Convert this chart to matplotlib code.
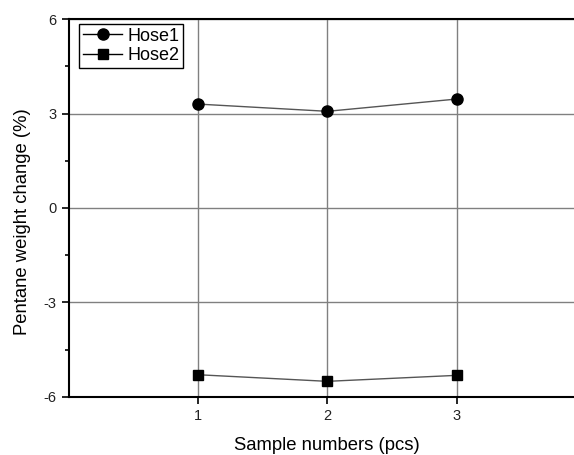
import matplotlib
matplotlib.use('Agg')
import matplotlib.pyplot as plt
from matplotlib.ticker import MultipleLocator

plt.rcParams['font.family'] = ['Liberation Sans', 'DejaVu Sans']
plt.rcParams['axes.unicode_minus'] = False

# data
samples = [1, 2, 3]
hose1 = [3.30, 3.07, 3.46]
hose2 = [-5.30, -5.51, -5.32]
x_ticks = [1, 2, 3]
y_ticks = [-6, -3, 0, 3, 6]

fig = plt.figure(figsize=(5.74, 4.55), dpi=100, facecolor='white')
# right edge sits past the figure, like the cropped original
ax = fig.add_axes([0.1197, 0.128, 0.901, 0.830])

ax.plot(samples, hose1, color='#555555', linewidth=1, marker='o', markersize=8,
        markerfacecolor='black', markeredgecolor='black', label='Hose1', zorder=3)
ax.plot(samples, hose2, color='#555555', linewidth=1, marker='s', markersize=7,
        markerfacecolor='black', markeredgecolor='black', label='Hose2', zorder=3)

ax.set_xlim(0, 4)
ax.set_ylim(-6, 6)
ax.set_xticks(x_ticks)
ax.set_yticks(y_ticks)
ax.yaxis.set_minor_locator(MultipleLocator(1.5))

ax.grid(True, which='major', color='#808080', linewidth=1)
ax.set_axisbelow(True)

for side in ['top', 'bottom', 'left', 'right']:
    ax.spines[side].set_linewidth(1.5)
    ax.spines[side].set_color('black')

ax.tick_params(axis='both', which='major', direction='out', length=5, width=1.2,
               labelsize=10.5, pad=4, labelcolor='#222222')
ax.tick_params(axis='y', which='minor', direction='out', length=3, width=1.2)

ax.set_xlabel('Sample numbers (pcs)', fontsize=13.3)
ax.xaxis.set_label_coords(0.5, -0.107)
ax.set_ylabel('Pentane weight change (%)', fontsize=13.3)
ax.yaxis.set_label_coords(-0.0735, 0.464)

leg = ax.legend(loc='upper left', bbox_to_anchor=(0.02, 0.987), borderaxespad=0,
                fontsize=13, handlelength=2.2, handletextpad=0.3, borderpad=0.2,
                labelspacing=0.15, fancybox=False, framealpha=1)
leg.get_frame().set_edgecolor('black')
leg.get_frame().set_linewidth(1)
for line in leg.get_lines():
    line.set_color('black')

fig.savefig('out.png', dpi=100, facecolor='white')
